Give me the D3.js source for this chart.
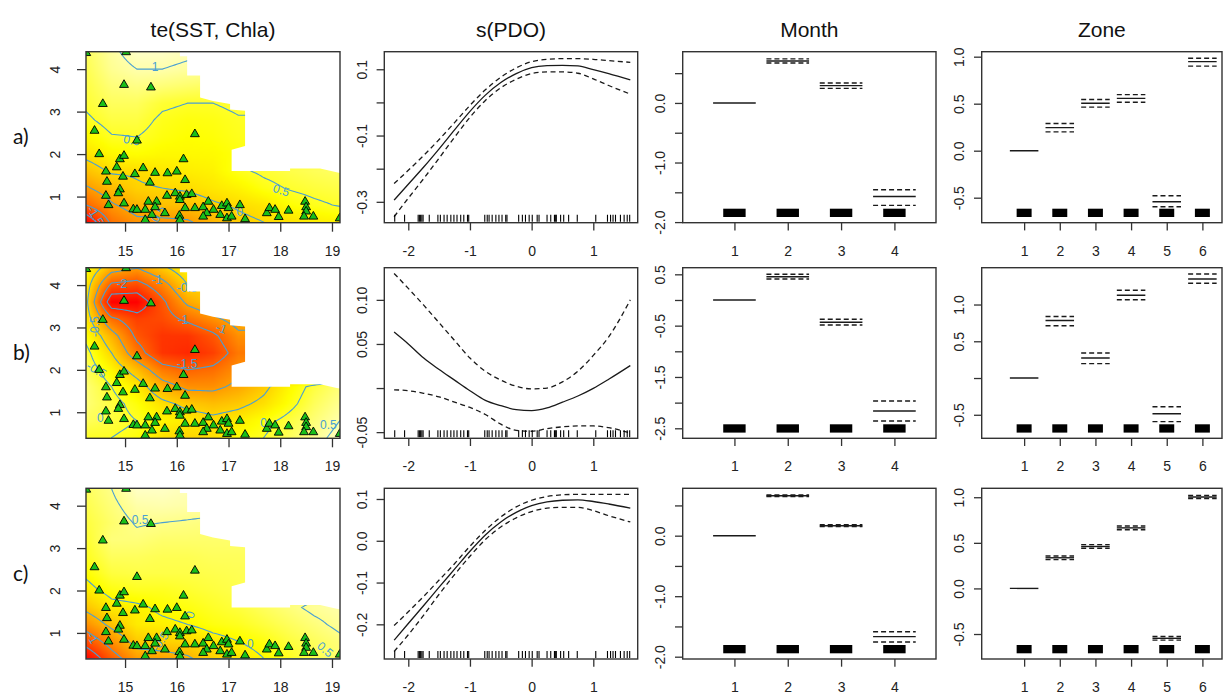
<!DOCTYPE html>
<html><head><meta charset="utf-8">
<script src="https://cdn.jsdelivr.net/npm/d3@7"></script>
<style>body{margin:0;background:#fff}svg{display:block}</style>
</head><body><svg id="chart" width="1225" height="694"></svg>
<script>
// ================= DATA =================
const panelTitles = ["te(SST, Chla)", "s(PDO)", "Month", "Zone"];
const rowLabels = ["a)", "b)", "c)"];

// --- te(SST, Chla) surfaces: grid nodes ---
const sstGrid  = [14.25,14.74,15.23,15.72,16.21,16.70,17.19,17.68,18.17,18.66,19.15];
const chlaGrid = [0.4,0.8,1.2,1.6,2.0,2.4,2.8,3.2,3.6,4.0,4.4];
// rows listed from Chla 4.4 (top) down to 0.4 (bottom); null = excluded (too far)
const heatA = [
  [ 0.70, 0.95, 1.10, 1.10, 1.05, null, null, null, null, null, null],
  [ 0.65, 0.90, 1.00, 1.00, 0.95, null, null, null, null, null, null],
  [ 0.60, 0.80, 0.85, 0.80, 0.75, 0.70, null, null, null, null, null],
  [ 0.55, 0.70, 0.70, 0.55, 0.50, 0.50, 0.55, null, null, null, null],
  [ 0.45, 0.60, 0.60, 0.45, 0.40, 0.42, 0.48, null, null, null, null],
  [ 0.30, 0.48, 0.50, 0.40, 0.35, 0.38, 0.45, null, null, null, null],
  [ 0.10, 0.30, 0.35, 0.30, 0.30, 0.32, 0.40, 0.50, null, null, null],
  [-0.20, 0.05, 0.05, 0.15, 0.20, 0.25, 0.45, 0.55, 0.62, 0.68, 0.72],
  [-0.55,-0.25,-0.05, 0.00, 0.05, 0.15, 0.25, 0.42, 0.52, 0.58, 0.62],
  [-1.00,-0.55,-0.30,-0.20,-0.20,-0.05, 0.05, 0.15, 0.35, 0.45, 0.52],
  [-1.90,-0.90,-0.60,-0.60,-0.55,-0.30,-0.10, 0.00, 0.10, 0.20, 0.25]
];
const heatB = [
  [-0.10,-0.80,-1.00,-0.60,-0.20, null, null, null, null, null, null],
  [-0.30,-1.60,-1.70,-1.20,-0.50, null, null, null, null, null, null],
  [-0.40,-2.35,-2.35,-1.60,-0.90,-0.60, null, null, null, null, null],
  [-0.30,-1.40,-1.80,-1.70,-1.40,-1.10,-0.80, null, null, null, null],
  [-0.10,-0.80,-1.60,-1.90,-1.90,-1.60,-1.10, null, null, null, null],
  [ 0.10,-0.50,-1.30,-1.90,-2.00,-1.80,-1.30, null, null, null, null],
  [ 0.20,-0.20,-0.70,-1.30,-1.50,-1.40,-1.10,-0.90, null, null, null],
  [ 0.30, 0.00,-0.30,-0.80,-1.10,-1.10,-0.90,-0.60,-0.20, 0.10, 0.30],
  [ 0.30, 0.10,-0.10,-0.40,-0.60,-0.70,-0.60,-0.40,-0.10, 0.20, 0.40],
  [ 0.20, 0.10, 0.00,-0.20,-0.30,-0.40,-0.30,-0.10, 0.10, 0.30, 0.50],
  [ 0.00, 0.00,-0.10,-0.40,-0.50,-0.40,-0.10, 0.00, 0.20, 0.40, 0.60]
];
const heatC = [
  [ 0.35, 0.50, 0.70, 0.70, 0.65, null, null, null, null, null, null],
  [ 0.30, 0.45, 0.60, 0.62, 0.60, null, null, null, null, null, null],
  [ 0.25, 0.40, 0.52, 0.50, 0.48, 0.45, null, null, null, null, null],
  [ 0.20, 0.45, 0.45, 0.40, 0.40, 0.40, 0.40, null, null, null, null],
  [ 0.15, 0.35, 0.35, 0.32, 0.32, 0.35, 0.35, null, null, null, null],
  [ 0.05, 0.25, 0.28, 0.28, 0.28, 0.30, 0.32, null, null, null, null],
  [-0.10, 0.10, 0.15, 0.15, 0.20, 0.25, 0.30, 0.40, null, null, null],
  [-0.40,-0.10,-0.05, 0.05, 0.10, 0.18, 0.25, 0.35, 0.45, 0.55, 0.60],
  [-0.80,-0.40,-0.10,-0.05, 0.00, 0.10, 0.15, 0.25, 0.35, 0.45, 0.55],
  [-1.30,-0.80,-0.35,-0.30,-0.25,-0.10, 0.00, 0.10, 0.25, 0.35, 0.45],
  [-1.90,-1.20,-0.70,-0.65,-0.55,-0.30,-0.15, 0.00, 0.15, 0.30, 0.40]
];
// boundary of the excluded (white) region, [SST, Chla]
const maskPoly = [[16.06,4.5],[16.06,4.30],[16.20,4.30],[16.20,3.85],[16.45,3.85],[16.45,3.33],[16.70,3.25],
  [17.03,3.18],[17.03,3.05],[17.32,3.02],[17.32,2.19],[17.06,2.10],[17.06,1.60],[18.19,1.60],[18.19,1.66],
  [18.77,1.66],[19.09,1.57],[19.3,1.53],[19.3,4.5]];
// observations (SST, Chla)
const obsSST  = [14.25,15.02,14.98,15.50,14.57,14.41,15.23,16.35,14.50,14.90,14.98,16.13,14.84,14.63,15.19,15.35,15.58,14.96,15.82,16.00,16.16,15.48,14.65,14.90,14.87,14.63,14.98,14.68,15.16,15.23,15.39,15.45,15.61,15.58,15.52,15.81,15.97,16.06,16.19,16.29,16.06,16.16,16.35,16.51,16.61,16.58,16.71,16.51,16.87,16.97,17.00,16.84,16.97,17.06,17.22,17.32,16.05,15.77,15.39,17.74,17.79,17.90,17.97,18.16,18.48,18.50,18.50,18.46,18.64,19.15,16.06];
const obsChla = [4.38,4.40,3.63,3.57,3.18,2.55,2.32,2.47,2.00,1.88,1.96,1.88,1.69,1.59,1.53,1.67,1.56,1.47,1.55,1.59,1.39,1.33,1.35,1.17,1.08,1.02,0.84,0.80,0.70,0.69,0.69,0.88,0.88,0.75,0.57,1.02,1.08,1.00,1.04,1.06,0.92,0.73,0.73,0.75,0.88,0.61,0.69,0.53,0.78,0.84,0.73,0.57,0.49,0.53,0.80,0.47,0.55,0.61,0.45,0.61,0.73,0.69,0.52,0.67,0.88,0.75,0.65,0.53,0.53,0.49,0.45];
// contour labels [SST, Chla, text, angle]
const contourLabelsA = [[15.58,4.06,"1",0],[15.13,2.33,"0.5",10],[18.02,1.15,"0.5",18],[17.22,0.65,"0",0],[15.62,0.55,"-0.5",-60],[14.43,0.55,"-1.5",58]];
const contourLabelsB = [[14.94,4.02,"-2",0],[15.62,4.12,"-1",0],[16.2,3.93,"-0.5",0],[16.12,3.18,"-1",0],[16.86,2.98,"-1",20],[16.2,2.15,"-1.5",0],[14.42,3.02,"-0.5",-90],[14.45,2.0,"-0.5",30],[14.52,0.86,"0",0],[17.68,0.74,"0",0],[18.93,0.70,"0.5",0]];
const contourLabelsC = [[15.29,3.66,"0.5",0],[14.37,0.88,"-1",60],[15.68,0.80,"-0.5",-55],[17.42,0.75,"0",0],[16.26,1.43,"0",-70],[18.87,0.61,"0.5",40]];

// --- s(PDO) ---
const pdoX   = [-2.23,-2.0,-1.75,-1.5,-1.25,-1.0,-0.75,-0.5,-0.25,0,0.25,0.5,0.75,1.0,1.25,1.6];
const pdoFitA = [-0.295,-0.247,-0.195,-0.140,-0.083,-0.027,0.022,0.060,0.087,0.105,0.111,0.112,0.110,0.099,0.087,0.068];
const pdoUpA  = [-0.245,-0.205,-0.160,-0.112,-0.061,-0.009,0.038,0.076,0.104,0.123,0.130,0.132,0.132,0.130,0.126,0.121];
const pdoLoA  = [-0.345,-0.289,-0.230,-0.168,-0.105,-0.045,0.006,0.044,0.070,0.087,0.092,0.092,0.088,0.071,0.051,0.025];
const pdoFitB = [0.0635,0.050,0.034,0.021,0.009,-0.003,-0.014,-0.020,-0.0245,-0.0256,-0.0225,-0.016,-0.009,-0.0003,0.010,0.0255];
const pdoUpB  = [0.130,0.113,0.094,0.074,0.054,0.034,0.019,0.009,0.002,-0.001,0.000,0.007,0.019,0.037,0.058,0.100];
const pdoLoB  = [-0.002,-0.003,-0.006,-0.010,-0.016,-0.022,-0.030,-0.041,-0.048,-0.049,-0.046,-0.044,-0.043,-0.043,-0.045,-0.051];
const pdoFitC = [-0.238,-0.198,-0.155,-0.111,-0.068,-0.025,0.014,0.045,0.068,0.084,0.093,0.097,0.098,0.094,0.088,0.078];
const pdoUpC  = [-0.203,-0.170,-0.133,-0.094,-0.055,-0.013,0.025,0.057,0.081,0.097,0.106,0.110,0.111,0.111,0.111,0.111];
const pdoLoC  = [-0.265,-0.225,-0.178,-0.128,-0.081,-0.037,0.003,0.033,0.055,0.070,0.078,0.080,0.080,0.072,0.060,0.045];
const pdoRug = [-2.22,-2.06,-1.84,-1.82,-1.80,-1.78,-1.76,-1.66,-1.52,-1.48,-1.42,-1.37,-1.31,-1.26,-1.21,-1.15,-1.10,-1.04,-1.02,-0.76,-0.72,-0.69,-0.64,-0.58,-0.53,-0.48,-0.42,-0.40,-0.21,-0.15,-0.10,-0.04,0.01,0.09,0.12,0.25,0.31,0.37,0.39,0.40,0.47,0.52,0.60,0.74,1.04,1.23,1.28,1.32,1.36,1.44,1.50,1.55,1.59];

// --- Month ---
const monthLevels = [1,2,3,4];
const monthFitA = [0, 0.705, 0.290, -1.570];
const monthUpA  = [0, 0.740, 0.335, -1.457];
const monthLoA  = [0, 0.670, 0.245, -1.720];
const monthFitB = [0, 0.454, -0.435, -2.163];
const monthUpB  = [0, 0.500, -0.376, -1.968];
const monthLoB  = [0, 0.410, -0.487, -2.357];
const monthFitC = [0, 0.661, 0.165, -1.669];
const monthUpC  = [0, 0.675, 0.180, -1.587];
const monthLoC  = [0, 0.647, 0.150, -1.757];

// --- Zone ---
const zoneLevels = [1,2,3,4,5,6];
const zoneFitA = [0, 0.245, 0.504, 0.557, -0.543, 0.947];
const zoneUpA  = [0, 0.290, 0.545, 0.596, -0.480, 0.983];
const zoneLoA  = [0, 0.200, 0.463, 0.515, -0.596, 0.900];
const zoneFitB = [0, 0.783, 0.273, 1.127, -0.485, 1.348];
const zoneUpB  = [0, 0.837, 0.341, 1.195, -0.390, 1.416];
const zoneLoB  = [0, 0.711, 0.196, 1.064, -0.593, 1.290];
const zoneFitC = [0, 0.336, 0.460, 0.664, -0.547, 1.003];
const zoneUpC  = [0, 0.356, 0.480, 0.684, -0.527, 1.020];
const zoneLoC  = [0, 0.316, 0.440, 0.644, -0.567, 0.986];

// --- axes: tick values and labels ---
const heatXTicks = [15,16,17,18,19];
const heatXLabels = ["15","16","17","18","19"];
const heatYTicks = [1,2,3,4];
const heatYLabels = ["1","2","3","4"];
const pdoXTicks = [-2,-1,0,1];
const pdoXLabels = ["-2","-1","0","1"];
const pdoYTicksA = [-0.3,-0.2,-0.1,0.0,0.1];   const pdoYLabelsA = ["-0.3","","-0.1","","0.1"];
const pdoYTicksB = [-0.05,0.0,0.05,0.10];      const pdoYLabelsB = ["-0.05","","0.05","0.10"];
const pdoYTicksC = [-0.2,-0.1,0.0,0.1];        const pdoYLabelsC = ["-0.2","-0.1","0.0","0.1"];
const monthXLabels = ["1","2","3","4"];
const monthYTicksA = [-2,-1.5,-1,-0.5,0,0.5];        const monthYLabelsA = ["-2.0","","-1.0","","0.0",""];
const monthYTicksB = [-2.5,-2,-1.5,-1,-0.5,0,0.5];   const monthYLabelsB = ["-2.5","","-1.5","","-0.5","","0.5"];
const monthYTicksC = [-2,-1.5,-1,-0.5,0,0.5];        const monthYLabelsC = ["-2.0","","-1.0","","0.0",""];
const zoneXLabels = ["1","2","3","4","5","6"];
const zoneYTicksA = [-0.5,0,0.5,1];  const zoneYLabelsA = ["-0.5","0.0","0.5","1.0"];
const zoneYTicksB = [-0.5,0,0.5,1];  const zoneYLabelsB = ["-0.5","","0.5","1.0"];
const zoneYTicksC = [-0.5,0,0.5,1];  const zoneYLabelsC = ["-0.5","0.0","0.5","1.0"];

// ================= LAYOUT / STYLE =================
const FONT = '"Liberation Sans", Arial, sans-serif';
const colX = [[86,340],[384.3,637.7],[682.7,936],[981.7,1222]];
const rowY = [[51.7,222.7],[267.7,438.3],[488.3,659]];
const heatXDomain = [14.245,19.155], heatYDomain = [0.385,4.41];
const pdoXDomain = [-2.389,1.72];
const pdoYDomains = [[-0.363,0.153],[-0.057,0.1365],[-0.283,0.1256]];
const monthXDomain = [0.03,4.78];
const monthYDomains = [[-2.01,0.86],[-2.695,0.629],[-2.038,0.783]];
const zoneXDomain = [-0.19,6.55];
const zoneYDomains = [[-0.766,1.053],[-0.82,1.501],[-0.774,1.098]];
const contourColor = "#4a9fd3";
const ink = "#1a1a1a";

const svg = d3.select("#chart");
svg.append("rect").attr("width",1225).attr("height",694).attr("fill","#fff");
const defs = svg.append("defs");
let clipN = 0;
function clipRect(x0,y0,x1,y1){
  const id = "clp"+(clipN++);
  defs.append("clipPath").attr("id",id).append("rect").attr("x",x0).attr("y",y0).attr("width",x1-x0).attr("height",y1-y0);
  return "url(#"+id+")";
}
function box(x0,y0,x1,y1){
  svg.append("rect").attr("x",x0).attr("y",y0).attr("width",x1-x0).attr("height",y1-y0)
    .attr("fill","none").attr("stroke","#333").attr("stroke-width",1.4);
}
function xAxis(scale,y,ticks,labels,tl){
  const g = svg.append("g").attr("transform",`translate(0,${y})`)
    .call(d3.axisBottom(scale).tickValues(ticks).tickFormat((d,i)=>labels[i]).tickSize(tl).tickSizeOuter(0));
  g.select(".domain").remove();
  g.selectAll(".tick line").attr("stroke","#333").attr("stroke-width",1.3);
  g.selectAll(".tick text").attr("y",33).attr("dy",0).attr("fill","#222")
    .style("font-family",FONT).style("font-size","14px");
}
function yAxis(scale,x,ticks,labels,tl,off){
  const g = svg.append("g").attr("transform",`translate(${x},0)`)
    .call(d3.axisLeft(scale).tickValues(ticks).tickFormat((d,i)=>labels[i]).tickSize(tl).tickSizeOuter(0));
  g.select(".domain").remove();
  g.selectAll(".tick line").attr("stroke","#333").attr("stroke-width",1.3);
  g.selectAll(".tick text").attr("transform","rotate(-90)").attr("x",0).attr("y",-off).attr("dy",0)
    .attr("text-anchor","middle").attr("fill","#222").style("font-family",FONT).style("font-size","14px");
}

// titles
panelTitles.forEach((t,i)=>{
  svg.append("text").attr("x",(colX[i][0]+colX[i][1])/2).attr("y",37).attr("text-anchor","middle")
    .style("font-family",FONT).style("font-size","21px").attr("fill","#111").text(t);
});
// row labels
rowLabels.forEach((t,r)=>{
  svg.append("text").attr("x",13).attr("y",(rowY[r][0]+rowY[r][1])/2+7).style("font-family",'Lato, "Noto Sans", sans-serif')
    .style("font-size","21px").attr("fill","#111").text(t);
});

// ---------- heat palette (R heat.colors style) ----------
function heatColor(t){
  t = Math.max(0,Math.min(1,t));
  if (t < 0.75) return [255, Math.round(255*t/0.75), 0];
  const s = 1 - (t-0.75)/0.25*0.78;
  return [255,255,Math.round(255*(1-s))];
}
function fillRow(row){
  const out=row.slice(); let last=null;
  for(let i=0;i<out.length;i++){ if(out[i]==null) out[i]=last; else last=out[i]; }
  return out;
}

function drawHeat(r, gridTop, labels){
  const [x0,x1]=colX[0], [y0,y1]=rowY[r];
  const xs=d3.scaleLinear().domain(heatXDomain).range([x0,x1]);
  const ys=d3.scaleLinear().domain(heatYDomain).range([y1,y0]);
  const clip = clipRect(x0,y0,x1,y1);
  const g = gridTop.slice().reverse().map(fillRow);
  const vals = gridTop.flat().filter(v=>v!=null);
  const zmin=d3.min(vals), zmax=d3.max(vals);
  const nI=sstGrid.length, nJ=chlaGrid.length, K=10;
  const NX=(nI-1)*K+1, NY=(nJ-1)*K+1;
  const fv=new Array(NX*NY);
  for(let j=0;j<NY;j++) for(let i=0;i<NX;i++){
    const fx=i/K, fy=j/K;
    const i0=Math.min(Math.floor(fx),nI-2), j0=Math.min(Math.floor(fy),nJ-2);
    const tx=fx-i0, ty=fy-j0;
    fv[j*NX+i]=g[j0][i0]*(1-tx)*(1-ty)+g[j0][i0+1]*tx*(1-ty)+g[j0+1][i0]*(1-tx)*ty+g[j0+1][i0+1]*tx*ty;
  }
  const cv=document.createElement("canvas"); cv.width=NX; cv.height=NY;
  const ctx=cv.getContext("2d"); const img=ctx.createImageData(NX,NY);
  for(let j=0;j<NY;j++) for(let i=0;i<NX;i++){
    const c=heatColor((fv[j*NX+i]-zmin)/(zmax-zmin)); const p=((NY-1-j)*NX+i)*4;
    img.data[p]=c[0]; img.data[p+1]=c[1]; img.data[p+2]=c[2]; img.data[p+3]=255;
  }
  ctx.putImageData(img,0,0);
  const s0=sstGrid[0], s1=sstGrid[nI-1], c0=chlaGrid[0], c1=chlaGrid[nJ-1];
  const hs=(s1-s0)/(NX-1), hc=(c1-c0)/(NY-1);
  svg.append("image").attr("href",cv.toDataURL())
    .attr("x",xs(s0-hs/2)).attr("y",ys(c1+hc/2))
    .attr("width",xs(s1+hs/2)-xs(s0-hs/2)).attr("height",ys(c0-hc/2)-ys(c1+hc/2))
    .attr("preserveAspectRatio","none").attr("clip-path",clip).style("image-rendering","auto");
  // contours
  const levels=d3.range(-3,1.51,0.5);
  const cs=d3.contours().size([NX,NY]).thresholds(levels)(fv);
  const tr=d3.geoTransform({point(x,y){ this.stream.point(xs(s0+(x-0.5)*hs), ys(c0+(y-0.5)*hc)); }});
  const path=d3.geoPath(tr);
  svg.append("g").attr("clip-path",clip).selectAll("path").data(cs).join("path")
    .attr("d",path).attr("fill","none").attr("stroke",contourColor).attr("stroke-width",1.1);
  // contour labels
  svg.append("g").attr("clip-path",clip).selectAll("text").data(labels).join("text")
    .attr("transform",d=>`translate(${xs(d[0])},${ys(d[1])}) rotate(${d[3]})`)
    .attr("text-anchor","middle").attr("dy","0.35em").attr("fill",contourColor)
    .style("font-family",FONT).style("font-size","12px").text(d=>d[2]);
  // excluded region
  svg.append("path").attr("clip-path",clip)
    .attr("d",d3.line().x(d=>xs(d[0])).y(d=>ys(d[1]))(maskPoly)+"Z").attr("fill","#fff");
  // observations
  svg.append("g").attr("clip-path",clip).selectAll("path").data(obsSST.map((s,i)=>[s,obsChla[i]])).join("path")
    .attr("transform",d=>`translate(${xs(d[0])},${ys(d[1])})`)
    .attr("d",d3.symbol(d3.symbolTriangle,34)).attr("fill","#19c019").attr("stroke","#000").attr("stroke-width",0.9);
  box(x0,y0,x1,y1);
  xAxis(xs,y1,heatXTicks,heatXLabels,9);
  yAxis(ys,x0,heatYTicks,heatYLabels,9,26);
}

function drawPDO(r, fit, up, lo, yTicks, yLabels){
  const [x0,x1]=colX[1], [y0,y1]=rowY[r];
  const xs=d3.scaleLinear().domain(pdoXDomain).range([x0,x1]);
  const ys=d3.scaleLinear().domain(pdoYDomains[r]).range([y1,y0]);
  const clip=clipRect(x0,y0,x1,y1);
  const line=d3.line().x((d,i)=>xs(pdoX[i])).y(d=>ys(d)).curve(d3.curveMonotoneX);
  const g=svg.append("g").attr("clip-path",clip);
  g.append("path").attr("d",line(fit)).attr("fill","none").attr("stroke",ink).attr("stroke-width",1.3);
  [up,lo].forEach(s=>g.append("path").attr("d",line(s)).attr("fill","none").attr("stroke",ink)
    .attr("stroke-width",1.3).attr("stroke-dasharray","5,3.5"));
  g.selectAll("line.rug").data(pdoRug).join("line").attr("class","rug")
    .attr("x1",d=>xs(d)).attr("x2",d=>xs(d)).attr("y1",y1-1).attr("y2",y1-8)
    .attr("stroke","#000").attr("stroke-width",1.1);
  box(x0,y0,x1,y1);
  xAxis(xs,y1,pdoXTicks,pdoXLabels,7.7);
  yAxis(ys,x0,yTicks,yLabels,7.7,17.5);
}

function drawFactor(col, r, levels, fit, up, lo, xDomain, yDomain, xLabels, yTicks, yLabels){
  const [x0,x1]=colX[col], [y0,y1]=rowY[r];
  const xs=d3.scaleLinear().domain(xDomain).range([x0,x1]);
  const ys=d3.scaleLinear().domain(yDomain).range([y1,y0]);
  const clip=clipRect(x0,y0,x1,y1);
  const g=svg.append("g").attr("clip-path",clip);
  levels.forEach((lv,i)=>{
    g.append("line").attr("x1",xs(lv-0.4)).attr("x2",xs(lv+0.4)).attr("y1",ys(fit[i])).attr("y2",ys(fit[i]))
      .attr("stroke",ink).attr("stroke-width",1.4);
    [up[i],lo[i]].forEach(v=>{
      if (v===fit[i]) return;
      g.append("line").attr("x1",xs(lv-0.4)).attr("x2",xs(lv+0.4)).attr("y1",ys(v)).attr("y2",ys(v))
        .attr("stroke",ink).attr("stroke-width",1.4).attr("stroke-dasharray","5,3");
    });
    g.append("rect").attr("x",xs(lv-0.21)).attr("width",xs(lv+0.21)-xs(lv-0.21))
      .attr("y",y1-14).attr("height",8.3).attr("fill","#000");
  });
  box(x0,y0,x1,y1);
  xAxis(xs,y1,levels,xLabels,7.7);
  yAxis(ys,x0,yTicks,yLabels,7.7,17.5);
}

// ================= DRAW =================
drawHeat(0, heatA, contourLabelsA);
drawHeat(1, heatB, contourLabelsB);
drawHeat(2, heatC, contourLabelsC);
drawPDO(0, pdoFitA, pdoUpA, pdoLoA, pdoYTicksA, pdoYLabelsA);
drawPDO(1, pdoFitB, pdoUpB, pdoLoB, pdoYTicksB, pdoYLabelsB);
drawPDO(2, pdoFitC, pdoUpC, pdoLoC, pdoYTicksC, pdoYLabelsC);
drawFactor(2,0,monthLevels,monthFitA,monthUpA,monthLoA,monthXDomain,monthYDomains[0],monthXLabels,monthYTicksA,monthYLabelsA);
drawFactor(2,1,monthLevels,monthFitB,monthUpB,monthLoB,monthXDomain,monthYDomains[1],monthXLabels,monthYTicksB,monthYLabelsB);
drawFactor(2,2,monthLevels,monthFitC,monthUpC,monthLoC,monthXDomain,monthYDomains[2],monthXLabels,monthYTicksC,monthYLabelsC);
drawFactor(3,0,zoneLevels,zoneFitA,zoneUpA,zoneLoA,zoneXDomain,zoneYDomains[0],zoneXLabels,zoneYTicksA,zoneYLabelsA);
drawFactor(3,1,zoneLevels,zoneFitB,zoneUpB,zoneLoB,zoneXDomain,zoneYDomains[1],zoneXLabels,zoneYTicksB,zoneYLabelsB);
drawFactor(3,2,zoneLevels,zoneFitC,zoneUpC,zoneLoC,zoneXDomain,zoneYDomains[2],zoneXLabels,zoneYTicksC,zoneYLabelsC);
</script></body></html>
